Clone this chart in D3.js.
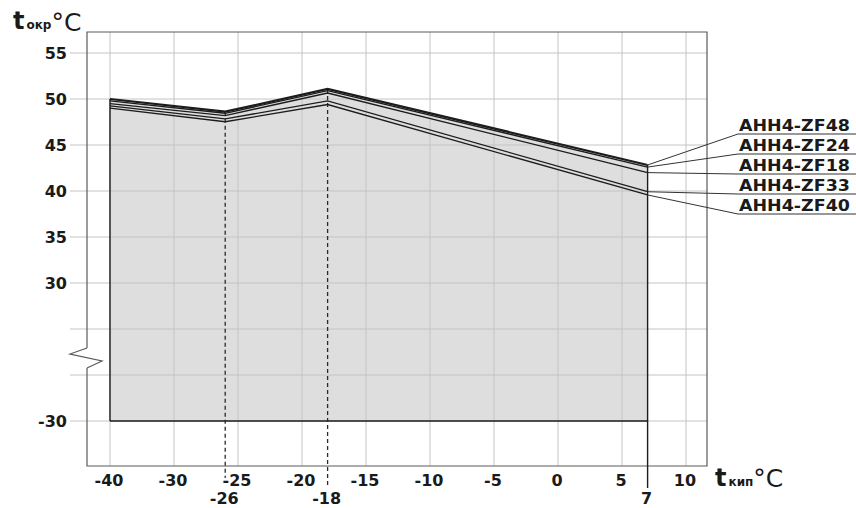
<!DOCTYPE html>
<html><head><meta charset="utf-8">
<script src="https://cdn.jsdelivr.net/npm/d3@7"></script>
<style>
html,body{margin:0;padding:0;background:#fff;}
svg{display:block;}
text{font-family:"DejaVu Sans",sans-serif;fill:#1a1a1a;}
</style></head>
<body>
<svg id="c" width="856" height="508"></svg>
<script>
// ---- data ----
const boilPoints = [-40, -26, -18, 7];           // t кип, °C
const seriesNames = ["AHH4-ZF48", "AHH4-ZF24", "AHH4-ZF18", "AHH4-ZF33", "AHH4-ZF40"];
const zf48 = [50.0, 48.62, 51.1, 42.83];
const zf24 = [49.8, 48.45, 50.9, 42.6];
const zf18 = [49.5, 48.2, 50.65, 42.0];
const zf33 = [49.25, 47.83, 49.8, 39.92];
const zf40 = [49.0, 47.53, 49.4, 39.57];
const seriesValues = [zf48, zf24, zf18, zf33, zf40];
const envelopeBottom = -30;
const xTicks = [-40, -30, -25, -20, -15, -10, -5, 0, 5, 10];
const xMarks = [-26, -18, 7];
const yGrid = [55, 50, 45, 40, 35, 30, 10, -10, -30];
const yLabels = [55, 50, 45, 40, 35, 30, -30];

// ---- layout ----
const W = 856, H = 508;
const frame = {left: 87, top: 32, right: 707, bottom: 466};
const svg = d3.select("#c");

// broken (polylinear) scales
const x = d3.scaleLinear().domain([-40, -30, 10]).range([110, 174, 686]);
const y = d3.scaleLinear().domain([-30, 30, 55]).range([421, 283, 53]);

const gridCol = "#c4c4c4", frameCol = "#5a5a5a", dark = "#1c1c1c";

// filled envelope (under highest curve)
const area = d3.area().x((d, i) => x(boilPoints[i])).y0(y(envelopeBottom)).y1(d => y(d));
svg.append("path").attr("d", area(zf48)).attr("fill", "#dedede");

// grid
svg.append("g").selectAll("line").data(xTicks).join("line")
  .attr("x1", d => x(d)).attr("x2", d => x(d))
  .attr("y1", frame.top).attr("y2", frame.bottom)
  .attr("stroke", gridCol).attr("stroke-width", 1);
svg.append("g").selectAll("line").data(yGrid).join("line")
  .attr("x1", 70).attr("x2", frame.right)
  .attr("y1", d => y(d)).attr("y2", d => y(d))
  .attr("stroke", gridCol).attr("stroke-width", 1);

// frame with axis break on the left side
const brk = y(0) + 3; // break centre
svg.append("path")
  .attr("d", `M${frame.left},${brk-7} L${frame.left},${frame.top} L${frame.right},${frame.top} L${frame.right},${frame.bottom} L${frame.left},${frame.bottom} L${frame.left},${brk+13}`)
  .attr("fill", "none").attr("stroke", frameCol).attr("stroke-width", 1.2);
svg.append("path")
  .attr("d", `M${frame.left},${brk-7} L${frame.left-17},${brk-1} L${frame.left+15},${brk+6} L${frame.left},${brk+13}`)
  .attr("fill", "none").attr("stroke", frameCol).attr("stroke-width", 1.2);

// envelope outline: left, bottom
svg.append("line").attr("x1", x(-40)).attr("x2", x(-40)).attr("y1", y(zf48[0])).attr("y2", y(envelopeBottom))
  .attr("stroke", dark).attr("stroke-width", 1.4);
svg.append("line").attr("x1", x(-40)).attr("x2", x(7)).attr("y1", y(envelopeBottom)).attr("y2", y(envelopeBottom))
  .attr("stroke", dark).attr("stroke-width", 1.4);
// right edge at 7 extends below frame
svg.append("line").attr("x1", x(7)).attr("x2", x(7)).attr("y1", y(zf48[3])).attr("y2", 488)
  .attr("stroke", dark).attr("stroke-width", 1.4);
// dashed markers at -26 and -18
const dashEnds = {"-26": 478, "-18": 488};
[-26, -18].forEach((v) => {
  const i = boilPoints.indexOf(v);
  svg.append("line").attr("x1", x(v)).attr("x2", x(v)).attr("y1", y(zf48[i])).attr("y2", dashEnds[v])
    .attr("stroke", "#2a2a2a").attr("stroke-width", 1.3).attr("stroke-dasharray", "4,3");
});

// series lines
const line = d3.line().x((d, i) => x(boilPoints[i])).y(d => y(d));
svg.append("g").selectAll("path").data(seriesValues).join("path")
  .attr("d", d => line(d)).attr("fill", "none").attr("stroke", dark)
  .attr("stroke-width", (d, i) => i === 0 ? 2.2 : 1.3);

// series labels with leaders
const labX = 738, labBase0 = 131, labStep = 20;
seriesNames.forEach((name, i) => {
  const by = labBase0 + i * labStep;
  const uy = by + 3;
  const v = seriesValues[i][3];
  svg.append("path")
    .attr("d", `M${x(7)},${y(v)} L${labX},${uy} L${W},${uy}`)
    .attr("fill", "none").attr("stroke", "#333").attr("stroke-width", 1);
  svg.append("text").attr("x", labX + 1).attr("y", by)
    .attr("font-size", 16.5).attr("font-weight", "bold")
    .attr("textLength", 111).attr("lengthAdjust", "spacingAndGlyphs")
    .text(name);
});

// axis tick labels
svg.append("g").selectAll("text").data(xTicks).join("text")
  .attr("x", d => x(d) - 1).attr("y", 486).attr("text-anchor", "middle")
  .attr("font-size", 16).attr("font-weight", "bold").text(d => d);
svg.append("g").selectAll("text").data(xMarks).join("text")
  .attr("x", d => x(d) - 1).attr("y", 504).attr("text-anchor", "middle")
  .attr("font-size", 16).attr("font-weight", "bold").text(d => d);
svg.append("g").selectAll("text").data(yLabels).join("text")
  .attr("x", 67).attr("y", d => y(d) + 6).attr("text-anchor", "end")
  .attr("font-size", 16).attr("font-weight", "bold").text(d => d);

// axis titles
const t1 = svg.append("text").attr("x", 13).attr("y", 29);
t1.append("tspan").attr("font-size", 24).attr("font-weight", "bold").text("t");
t1.append("tspan").attr("font-size", 12).attr("font-weight", "bold").attr("dx", 2).text("окр");
t1.append("tspan").attr("font-size", 25).attr("dy", 2).text("°C");
const t2 = svg.append("text").attr("x", 715).attr("y", 486);
t2.append("tspan").attr("font-size", 24).attr("font-weight", "bold").text("t");
t2.append("tspan").attr("font-size", 12).attr("font-weight", "bold").attr("dx", 2).text("кип");
t2.append("tspan").attr("font-size", 25).attr("dy", 1).text("°C");
</script>
</body></html>
